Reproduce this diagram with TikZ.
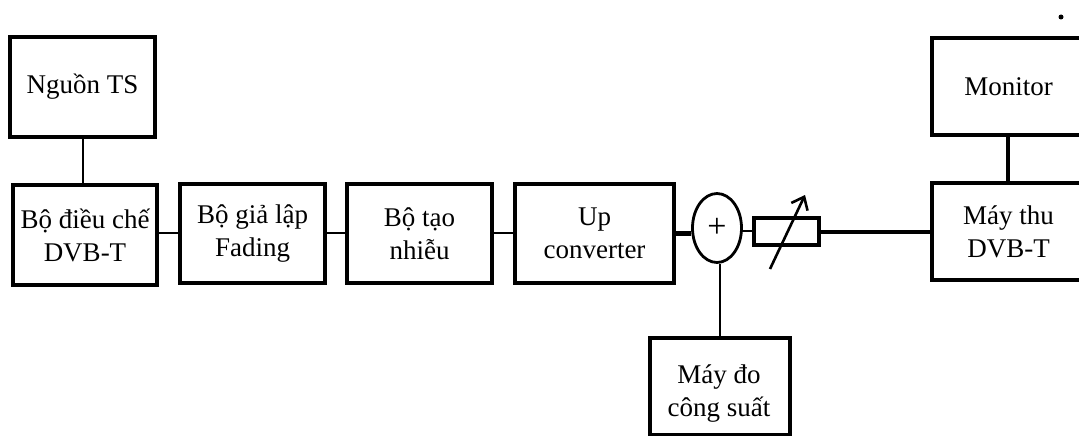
\documentclass[tikz,border=0pt]{standalone}
\usepackage{fontspec}
\setmainfont{Liberation Serif}
\usetikzlibrary{arrows.meta,shapes.geometric}
\begin{document}
\begin{tikzpicture}[x=1pt,y=-1pt,
  blk/.style={draw,line width=3.4pt,align=center,inner sep=0pt,
    font=\fontsize{27}{33}\selectfont},
  lbl/.style={align=center,inner sep=0pt,font=\fontsize{27}{33}\selectfont},
  wire/.style={line width=2.8pt}]
\useasboundingbox (0,0) rectangle (1079,436);
\clip (0,0) rectangle (1079,436);
\node[blk,minimum width=145pt,minimum height=100pt] (src) at (82.5,87) {Nguồn TS};
\node[blk,minimum width=144pt,minimum height=100pt] (mod) at (85,235) {Bộ điều chế\\DVB-T};
\node[blk,minimum width=145pt,minimum height=99pt] (fad) at (252.5,233.5) {Bộ giả lập\\Fading};
\node[blk,minimum width=145pt,minimum height=99pt] (noi) at (419.5,233.5) {Bộ tạo\\nhiễu};
\node[blk,minimum width=159pt,minimum height=99pt] (up) at (594.5,233.5) {Up\\converter};
\node[blk,ellipse,line width=2.8pt,minimum width=49pt,minimum height=69pt,font=\fontsize{34}{34}\selectfont] (sum) at (717,228) {+};
\node[draw,line width=3.6pt,minimum width=65pt,minimum height=27pt,inner sep=0pt] (res) at (786.5,231.5) {};
\node[blk,minimum width=153pt,minimum height=97pt] (rx) at (1008.5,231.5) {Máy thu\\DVB-T};
\node[blk,minimum width=153pt,minimum height=97pt] (mon) at (1008.5,86.5) {Monitor};
\node[blk,minimum width=140pt,minimum height=97pt] (met) at (720,386.5) {};
\node[lbl] (metl) at (719,394) {Máy đo\\công suất};
\coordinate (aS) at (770,269);
\coordinate (aE) at (805,195);
\draw[wire] (src.south -| 83,0) -- (mod.north -| 83,0);
\draw[wire] (mod.east |- 0,233) -- (fad.west |- 0,233);
\draw[wire] (fad.east |- 0,233) -- (noi.west |- 0,233);
\draw[wire] (noi.east |- 0,233) -- (up.west |- 0,233);
\draw[line width=5pt] (up.east |- 0,233) -- (sum.west |- 0,233);
\draw[wire] (sum.east |- 0,231) -- (res.west |- 0,231);
\draw[line width=3.2pt] (res.east |- 0,232) -- (rx.west |- 0,232);
\draw[line width=3.4pt] (mon.south -| 1008,0) -- (rx.north -| 1008,0);
\draw[wire] (sum.south -| 720,0) -- (met.north -| 720,0);
\draw[line width=2.6pt,-{Straight Barb[length=11pt,width=18pt,line width=2.6pt]}] (aS) -- (aE);
\fill (1061,17) circle (2.5pt);
\end{tikzpicture}
\end{document}
